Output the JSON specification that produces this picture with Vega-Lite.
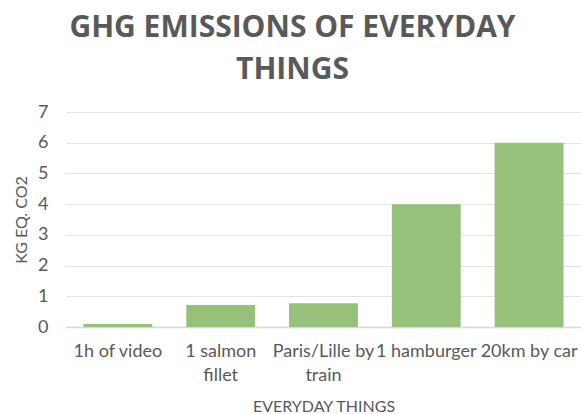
{
  "$schema": "https://vega.github.io/schema/vega-lite/v6.json",
  "width": 515,
  "height": 215,
  "autosize": {"type": "none"},
  "padding": {"left": 66, "top": 112, "right": 0, "bottom": 87},
  "background": "white",
  "title": {
    "text": ["GHG EMISSIONS OF EVERYDAY", "THINGS"],
    "font": "Open Sans",
    "fontWeight": "bold",
    "fontSize": 30,
    "lineHeight": 42,
    "color": "#595959",
    "anchor": "middle",
    "dx": -31,
    "dy": 3,
    "offset": 21
  },
  "data": {
    "values": [
      {"thing": "1h of video", "co2": 0.1},
      {"thing": "1 salmon fillet", "co2": 0.72},
      {"thing": "Paris/Lille by train", "co2": 0.77},
      {"thing": "1 hamburger", "co2": 4},
      {"thing": "20km by car", "co2": 6}
    ]
  },
  "mark": {"type": "bar", "color": "#97c17b"},
  "encoding": {
    "x": {
      "field": "thing",
      "type": "nominal",
      "sort": null,
      "scale": {"paddingInner": 0.33, "paddingOuter": 0.17},
      "axis": {
        "title": "EVERYDAY THINGS",
        "titleFont": "Lato",
        "titleFontWeight": "normal",
        "titleFontSize": 16,
        "titleColor": "#595959",
        "titlePadding": 14,
        "labelAngle": 0,
        "labelFont": "Lato",
        "labelFontSize": 18,
        "labelColor": "#595959",
        "labelPadding": 15,
        "labelLineHeight": 24,
        "labelLimit": 0,
        "labelExpr": "datum.value == '1 salmon fillet' ? ['1 salmon', 'fillet'] : datum.value == 'Paris/Lille by train' ? ['Paris/Lille by', 'train'] : datum.value",
        "ticks": false,
        "domainColor": "#d9d9d9",
        "domainWidth": 1.5
      }
    },
    "y": {
      "field": "co2",
      "type": "quantitative",
      "scale": {"domain": [0, 7]},
      "axis": {
        "title": "KG EQ. CO2",
        "titleFont": "Lato",
        "titleFontWeight": "normal",
        "titleFontSize": 16,
        "titleColor": "#595959",
        "titlePadding": 8,
        "values": [0, 1, 2, 3, 4, 5, 6, 7],
        "labelFont": "Lato",
        "labelFontSize": 18,
        "labelColor": "#595959",
        "labelPadding": 18,
        "ticks": false,
        "domain": false,
        "gridColor": "#e3e3e3",
        "gridWidth": 1
      }
    }
  },
  "config": {"view": {"stroke": null}}
}
